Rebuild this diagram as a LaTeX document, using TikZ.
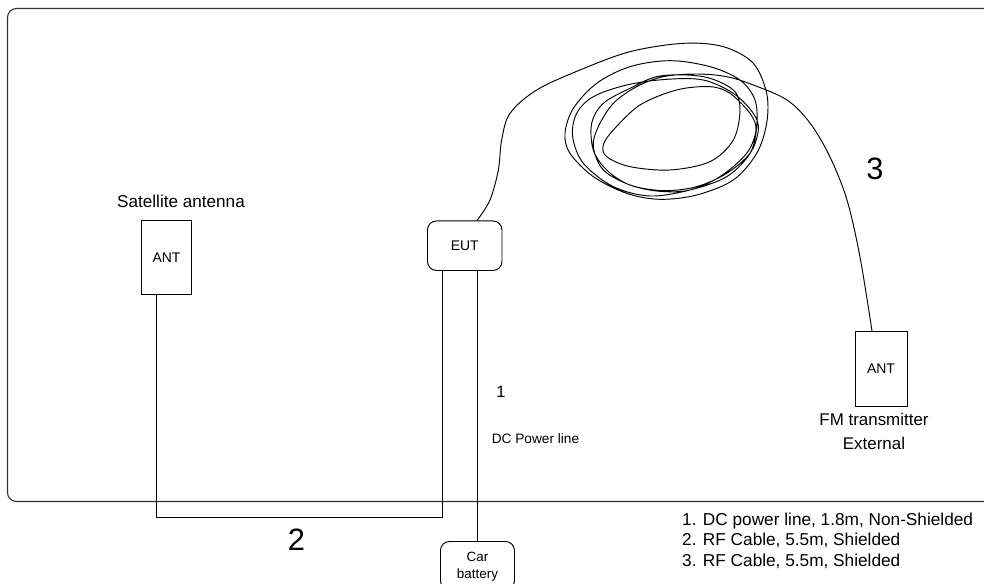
\documentclass[tikz,border=0pt]{standalone}
\usepackage{fontspec}
\setmainfont{Liberation Sans}
\tikzset{
  wire/.style={draw=black,line width=0.95pt},
  frameline/.style={draw=black!80,line width=1.1pt},
  box/.style={draw=black,line width=0.95pt,fill=white,inner sep=0pt,anchor=north west,align=center,font=\fontsize{14}{16}\selectfont},
  roundbox/.style={box,rounded corners=9pt},
  lbl/.style={inner sep=0pt,align=center}
}
\begin{document}
\begin{tikzpicture}[x=1bp,y=-1bp]
\useasboundingbox (0,0) rectangle (984,584);
\draw[frameline,rounded corners=9pt] (984,8.5) -- (7.5,8.5) -- (7.5,501.5) -- (984,501.5);
\node[box,minimum width=50bp,minimum height=74bp] (antA) at (141,220) {ANT};
\node[box,minimum width=52bp,minimum height=74.5bp] (antB) at (854.5,331) {ANT};
\node[roundbox,minimum width=74.5bp,minimum height=49.5bp] (eut) at (427,220.5) {EUT};
\node[roundbox,minimum width=74bp,minimum height=48bp,font=\fontsize{13.5}{16.5}\selectfont,text depth=0pt] (bat) at (440,541) {Car\\battery};
\coordinate (p1) at (156,517);
\coordinate (p2) at (442,517);
\coordinate (p3) at (477,517);
\coordinate (c0) at (477,220.5);
\coordinate (c1) at (872,331);
\draw[wire] (antA.south -| p1) -- (p1) -- (p2) -- (eut.south -| p2);
\draw[wire] (eut.south -| p3) -- (bat.north -| p3);
\begin{scope}[shift={(470,30)},x=0.33333bp,y=-0.33333bp]
\draw[wire,line join=round] plot[smooth,tension=0.55] coordinates {
 (c0) (60,510) (85,420) (95,330) (120,250) (200,180) (330,120) (480,65) (640,40) (760,50) (850,100)
 (890,190) (890,280) (860,370) (790,450) (680,495) (570,508) (470,490) (370,440) (300,370) (285,310)
 (310,235) (380,160) (480,110) (600,92) (720,110) (810,150) (855,210) (860,290) (840,370) (770,440)
 (660,480) (540,498) (430,470) (340,400) (308,320) (320,250) (370,200) (470,165) (590,148) (700,150)
 (790,190) (850,250) (865,300) (840,370) (770,430) (680,470) (580,482) (480,465) (410,420) (370,360)
 (365,280) (400,220) (480,175) (570,138) (700,140) (790,180) (810,240) (790,330) (720,395) (600,420)
 (480,410) (410,380) (400,345) (430,300) (510,225) (620,180) (720,170) (780,190) (840,250) (858,300)
 (830,370) (750,440) (660,480) (570,484) (480,465) (400,420) (370,350) (385,290) (430,220) (500,170)
 (580,140) (680,132) (770,140) (850,165) (951,210) (1020,279) (1080,381) (1131,510) (1170,681) (c1)
};
\end{scope}
\node[lbl,font=\fontsize{17.2}{20}\selectfont] (t1) at (181,201) {Satellite antenna};
\node[lbl,font=\fontsize{17}{24}\selectfont] (t2) at (874,431) {FM transmitter\\External};
\node[lbl,font=\fontsize{16.5}{18}\selectfont] (t3) at (501,392) {1};
\node[lbl,font=\fontsize{13.7}{15}\selectfont] (t4) at (535.5,439) {DC Power line};
\node[lbl,font=\fontsize{31}{33}\selectfont] (t5) at (875,168.5) {3};
\node[lbl,font=\fontsize{31}{33}\selectfont] (t6) at (296.5,540) {2};
\node[lbl,align=left,anchor=north west,font=\fontsize{17.3}{20.5}\selectfont] (t7) at (682,512.5) {1. DC power line, 1.8m, Non-Shielded\\2. RF Cable, 5.5m, Shielded\\3. RF Cable, 5.5m, Shielded};
\end{tikzpicture}
\end{document}
